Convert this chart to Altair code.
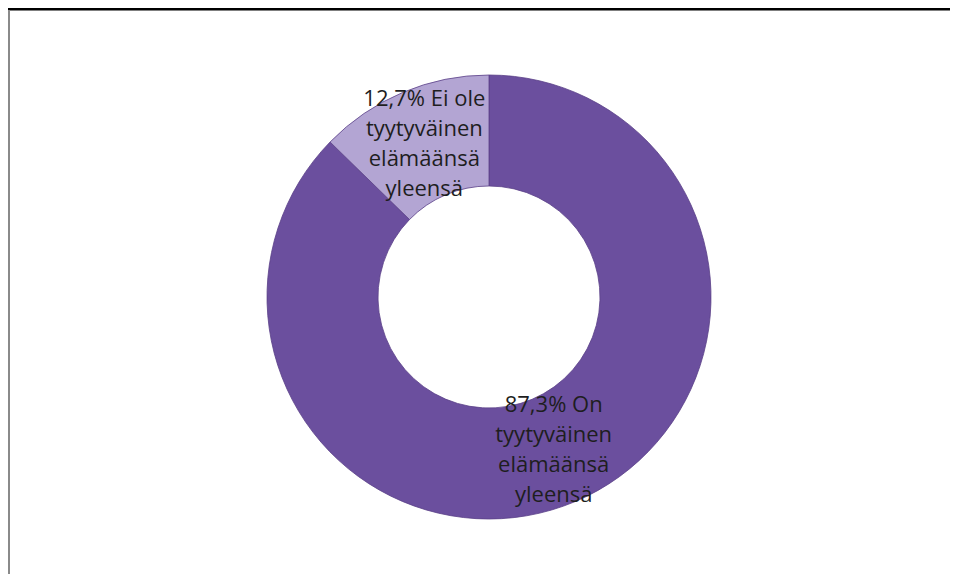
import altair as alt
import pandas as pd

# Data
categories = ["On tyytyväinen elämäänsä yleensä", "Ei ole tyytyväinen elämäänsä yleensä"]
values = [87.3, 12.7]
labels = ["87,3% On\ntyytyväinen\nelämäänsä\nyleensä", "12,7%  Ei ole\ntyytyväinen\nelämäänsä\nyleensä"]
colors = ["#6b4f9e", "#b3a5d3"]
order = [0, 1]

df = pd.DataFrame({"category": categories, "value": values, "label": labels, "order": order})

PAD_L, PAD_T = 2, 3
CX, CY = 489 - 8 - PAD_L, 297 - 8 - PAD_T
R_OUT, R_IN = 222, 111

base = alt.Chart(df).encode(
    theta=alt.Theta("value:Q", stack=True),
    order=alt.Order("order:Q"),
)

arcs = base.mark_arc(outerRadius=R_OUT, innerRadius=R_IN, stroke="#5a4088", strokeWidth=0.8).encode(
    color=alt.Color("category:N", scale=alt.Scale(domain=categories, range=colors), legend=None),
    x=alt.value(CX),
    y=alt.value(CY),
)

text = base.mark_text(
    radius=(R_OUT + R_IN) / 2,
    fontSize=22,
    font="Open Sans",
    lineBreak="\n",
    lineHeight=30,
    align="center",
    baseline="middle",
    dy=-45,
    color="#1e1e1e",
).encode(
    text="label:N",
    x=alt.value(CX),
    y=alt.value(CY),
)

frame_df = pd.DataFrame({"a": [0]})
top_line = alt.Chart(frame_df).mark_rule(color="#000000", strokeWidth=3).encode(
    x=alt.value(-2), x2=alt.value(950), y=alt.value(-2)
)
left_line = alt.Chart(frame_df).mark_rule(color="#8a8a8a", strokeWidth=2).encode(
    x=alt.value(-1), y=alt.value(-1), y2=alt.value(580)
)

chart = alt.layer(arcs, text, top_line, left_line).properties(
    width=942 - PAD_L,
    height=566 - PAD_T,
    padding={"left": PAD_L, "top": PAD_T, "right": 0, "bottom": 0},
    autosize=alt.AutoSizeParams(type="none"),
    background="#ffffff",
).configure_view(stroke=None)

chart.save("out.html", embed_options={"renderer": "svg", "actions": False})
